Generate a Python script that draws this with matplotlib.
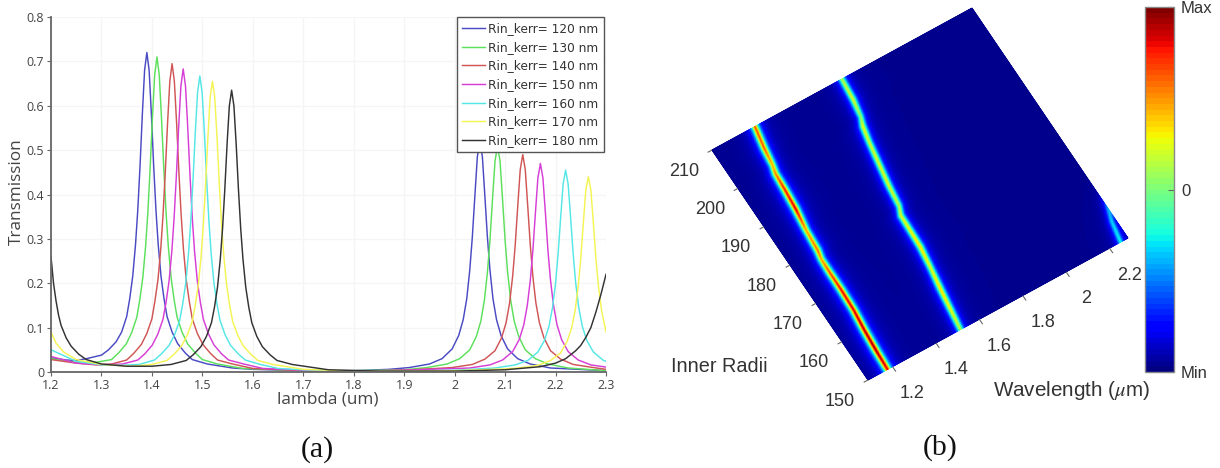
import numpy as np
import matplotlib
matplotlib.use("Agg")
import matplotlib.pyplot as plt
from matplotlib.transforms import Affine2D

W, H = 1220, 468

# ---------- panel (a): transmission curves ----------
lam_120 = [1.2,1.23,1.25,1.27,1.3,1.314,1.329,1.34,1.35,1.356,1.362,1.3675,1.372,1.3765,1.381,1.3855,1.39,
           1.3945,1.399,1.4035,1.408,1.4125,1.418,1.424,1.43,1.44,1.451,1.466,1.48,1.51,1.56,1.6,1.7,1.8,1.87,
           1.91,1.95,1.975,1.995,2.008,2.017,2.024,2.03,2.035,2.04,2.045,2.05,
           2.055,2.06,2.065,2.07,2.076,2.083,2.092,2.105,2.125,2.15,2.19,2.3]
T_120 = [.032,.027,.026,.03,.038,.05,.068,.09,.125,.165,.216,.287,.365,.465,.58,.68,.72,
         .68,.58,.465,.365,.287,.216,.165,.125,.09,.064,.043,.028,.018,.009,.006,.003,.003,.006,
         .01,.018,.03,.052,.082,.118,.165,.23,.303,.395,.485,.52,
         .485,.395,.303,.23,.165,.118,.082,.052,.03,.018,.009,.003]
lam_130 = [1.2,1.25,1.29,1.32,1.334,1.349,1.36,1.37,1.376,1.382,1.3875,1.392,1.3965,1.401,1.4055,1.41,
           1.4145,1.419,1.4235,1.428,1.4325,1.438,1.444,1.45,1.46,1.471,1.486,1.5,1.53,1.58,1.7,1.8,1.9,
           1.945,1.985,2.01,2.03,2.043,2.052,2.059,2.065,2.07,2.075,2.08,2.085,
           2.09,2.095,2.1,2.105,2.111,2.118,2.127,2.14,2.16,2.185,2.225,2.3]
T_130 = [.03,.022,.022,.028,.043,.063,.089,.123,.163,.213,.283,.36,.46,.572,.67,.71,
         .67,.572,.46,.36,.283,.213,.163,.123,.089,.063,.043,.028,.018,.008,.003,.003,.005,
         .01,.018,.03,.05,.08,.115,.162,.225,.297,.388,.475,.51,
         .475,.388,.297,.225,.162,.115,.08,.05,.03,.018,.009,.003]
lam_140 = [1.2,1.25,1.29,1.32,1.35,1.364,1.379,1.39,1.40,1.406,1.412,1.4175,1.422,1.4265,1.431,1.4355,1.44,
           1.4445,1.449,1.4535,1.458,1.4625,1.468,1.474,1.48,1.49,1.501,1.516,1.53,1.56,1.6,1.7,1.8,1.9,
           1.995,2.035,2.06,2.08,2.093,2.102,2.109,2.115,2.12,2.125,2.13,2.135,
           2.14,2.145,2.15,2.155,2.161,2.168,2.177,2.19,2.21,2.235,2.275,2.3]
T_140 = [.028,.02,.016,.018,.027,.042,.062,.087,.12,.16,.208,.277,.353,.45,.56,.655,.695,
         .655,.56,.45,.353,.277,.208,.16,.12,.087,.062,.042,.027,.018,.008,.003,.002,.004,
         .01,.017,.029,.048,.077,.111,.156,.216,.285,.372,.456,.49,
         .456,.372,.285,.216,.156,.111,.077,.048,.029,.017,.01,.006]
lam_150 = [1.2,1.25,1.3,1.342,1.372,1.386,1.401,1.412,1.422,1.428,1.434,1.4395,1.444,1.4485,1.453,1.4575,1.462,
           1.4665,1.471,1.4755,1.48,1.4845,1.49,1.496,1.502,1.512,1.523,1.538,1.552,1.582,1.62,1.7,1.8,1.9,
           2.03,2.07,2.095,2.115,2.128,2.137,2.144,2.15,2.155,2.16,2.165,2.17,
           2.175,2.18,2.185,2.19,2.196,2.203,2.212,2.225,2.245,2.27,2.3]
T_150 = [.035,.02,.016,.018,.027,.041,.061,.086,.119,.157,.205,.272,.347,.443,.552,.645,.683,
         .645,.552,.443,.347,.272,.205,.157,.119,.086,.061,.041,.027,.018,.008,.004,.002,.004,
         .009,.016,.027,.046,.073,.106,.15,.207,.273,.357,.437,.47,
         .437,.357,.273,.207,.15,.106,.073,.046,.027,.016,.011]
lam_160 = [1.2,1.25,1.3,1.34,1.375,1.405,1.419,1.434,1.445,1.455,1.461,1.467,1.4725,1.477,1.4815,1.486,1.4905,1.495,
           1.4995,1.504,1.5085,1.513,1.5175,1.523,1.529,1.535,1.545,1.556,1.571,1.585,1.615,1.65,1.7,1.8,1.9,2.0,
           2.08,2.12,2.145,2.165,2.178,2.187,2.194,2.2,2.205,2.21,2.215,2.22,
           2.225,2.23,2.235,2.24,2.246,2.253,2.262,2.275,2.295,2.3]
T_160 = [.05,.024,.016,.015,.017,.027,.041,.06,.084,.116,.153,.2,.266,.34,.433,.54,.63,.667,
         .63,.54,.433,.34,.266,.2,.153,.116,.084,.06,.041,.027,.017,.008,.005,.002,.002,.004,
         .009,.016,.026,.045,.071,.103,.145,.2,.265,.346,.423,.455,
         .423,.346,.265,.2,.145,.103,.071,.045,.026,.024]
lam_170 = [1.2,1.21,1.225,1.25,1.3,1.36,1.40,1.43,1.444,1.459,1.47,1.48,1.486,1.492,1.4975,1.502,1.5065,1.511,1.5155,1.52,
           1.5245,1.529,1.5335,1.538,1.5425,1.548,1.554,1.56,1.57,1.581,1.596,1.61,1.64,1.7,1.8,1.9,2.0,2.1,
           2.125,2.165,2.19,2.21,2.223,2.232,2.239,2.245,2.25,2.255,2.26,2.265,
           2.27,2.275,2.28,2.285,2.291,2.3]
T_170 = [.09,.065,.045,.028,.017,.013,.017,.026,.04,.059,.083,.114,.151,.197,.261,.333,.425,.53,.62,.655,
         .62,.53,.425,.333,.261,.197,.151,.114,.083,.059,.04,.026,.017,.006,.002,.002,.003,.007,
         .009,.015,.026,.043,.069,.1,.14,.194,.256,.335,.41,.44,
         .41,.335,.256,.194,.14,.09]
lam_180 = [1.2,1.205,1.21,1.215,1.22,1.23,1.24,1.255,1.27,1.3,1.35,1.4,
           1.438,1.468,1.482,1.497,1.508,1.518,1.524,1.53,1.5355,1.54,1.5445,1.549,1.5535,1.558,
           1.5625,1.567,1.5715,1.576,1.5805,1.586,1.592,1.598,1.608,1.619,1.634,1.648,1.678,
           1.75,1.85,2.0,2.1,2.17,2.2,2.22,2.24,2.25,2.26,2.27,2.28,2.29,2.3]
T_180 = [.26,.2,.16,.128,.105,.077,.058,.04,.028,.018,.013,.013,
         .017,.026,.039,.057,.08,.111,.146,.191,.254,.323,.412,.514,.6,.635,
         .6,.514,.412,.323,.254,.191,.146,.111,.08,.057,.039,.026,.017,
         .005,.002,.002,.005,.012,.02,.03,.048,.06,.078,.1,.135,.175,.22]

labels_a = ["Rin_kerr= 120 nm", "Rin_kerr= 130 nm", "Rin_kerr= 140 nm", "Rin_kerr= 150 nm",
            "Rin_kerr= 160 nm", "Rin_kerr= 170 nm", "Rin_kerr= 180 nm"]
colors_a = ["#4a4ac4", "#5ce05c", "#d05555", "#d63ed6", "#55e6e6", "#f4f455", "#333333"]
xticks_a = [1.2,1.3,1.4,1.5,1.6,1.7,1.8,1.9,2.0,2.1,2.2,2.3]
xticklabels_a = ["1.2","1.3","1.4","1.5","1.6","1.7","1.8","1.9","2","2.1","2.2","2.3"]
yticks_a = [0,.1,.2,.3,.4,.5,.6,.7,.8]
yticklabels_a = ["0","0.1","0.2","0.3","0.4","0.5","0.6","0.7","0.8"]

# ---------- panel (b): resonance ridges ----------
radii = [150,155,160,165,170,175,178,180,185,190,195,199,201,205,210]
ridge1_centre = [1.178,1.183,1.19,1.20,1.204,1.205,1.207,1.215,1.222,1.235,1.243,1.248,1.258,1.268,1.286]
ridge1_peak = [.90,.95,.93,.90,.88,.80,.72,.78,.72,.90,.86,.76,.70,.80,.80]
ridge2_centre = [1.514,1.527,1.54,1.555,1.568,1.572,1.574,1.59,1.602,1.618,1.634,1.65,1.665,1.678,1.687]
ridge2_peak = [.55,.62,.66,.60,.66,.62,.60,.55,.60,.60,.58,.62,.50,.60,.55]
ridge3_centre = [2.252,2.27,2.30,2.34,2.38,2.42,2.44,2.46,2.50,2.54,2.58,2.61,2.63,2.66,2.70]
ridge3_peak = [.36,.32,.25,.10,.05,.05,.05,.05,.05,.05,.05,.05,.05,.05,.05]
ridge_width = .0125
background = .012
lam_min, lam_max = 1.087, 2.285
lam_ticks = [1.2,1.4,1.6,1.8,2.0,2.2]
lam_ticklabels = ["1.2","1.4","1.6","1.8","2","2.2"]
rad_ticks = [150,160,170,180,190,200,210]

# ---------- drawing ----------
plt.rcParams["font.family"] = ["Open Sans", "DejaVu Sans"]
plt.rcParams["mathtext.fontset"] = "stix"
fig = plt.figure(figsize=(W/100, H/100), dpi=100, facecolor="white")

def box(l, t, r, b):
    return [l/W, 1-b/H, (r-l)/W, (b-t)/H]

# panel (a)
ax = fig.add_axes(box(51, 17, 606, 372))
series = [(lam_120,T_120),(lam_130,T_130),(lam_140,T_140),(lam_150,T_150),
          (lam_160,T_160),(lam_170,T_170),(lam_180,T_180)]
for (x, y), c, lab in zip(series, colors_a, labels_a):
    ax.plot(x, y, color=c, lw=1.05, label=lab)
ax.set_xlim(1.2, 2.3); ax.set_ylim(0, .8)
ax.set_xticks(xticks_a, xticklabels_a); ax.set_yticks(yticks_a, yticklabels_a)
ax.grid(True, color="#f5f5f5", lw=1); ax.set_axisbelow(True)
for s in ("top","right"):
    ax.spines[s].set_visible(False)
for s in ("left","bottom"):
    ax.spines[s].set_color("#666666"); ax.spines[s].set_linewidth(1.3)
ax.tick_params(colors="#444444", labelsize=9, length=3, width=.8, pad=2, color="#666666")
ax.set_ylabel("Transmission", fontsize=12.3, color="#444444")
ax.yaxis.set_label_coords((25-51)/555, (372-192)/355)
ax.set_xlabel("lambda (um)", fontsize=12.3, color="#444444")
ax.xaxis.set_label_coords((328-51)/555, (372-391)/355)
leg = ax.legend(loc="upper left", bbox_to_anchor=((457-51)/555, 1.0), fancybox=False,
                framealpha=1, edgecolor="#555555", borderaxespad=0, labelspacing=.47,
                handlelength=1.9, handletextpad=.28, borderpad=.42, labelcolor="#333333",
                prop={"family": "DejaVu Sans", "size": 8.7})
leg.get_frame().set_linewidth(1)
leg.set_zorder(10)

# panel (b): overlay in pixel coordinates, heat map placed by an affine map
ov = fig.add_axes([0, 0, 1, 1]); ov.set_xlim(0, W); ov.set_ylim(H, 0); ov.axis("off"); ov.patch.set_alpha(0)
# (wavelength, radius) -> pixels
tr = Affine2D(np.array([[217.0, -2.6, 868 - 217.0*lam_min + 2.6*150],
                        [-118.5, -3.833, 380 + 118.5*lam_min + 3.833*150],
                        [0, 0, 1]]))
lam_grid = np.linspace(lam_min, lam_max, 600)
rad_grid = np.linspace(radii[0], radii[-1], 300)
Z = np.full((rad_grid.size, lam_grid.size), background)
for cen, pk in ((ridge1_centre, ridge1_peak), (ridge2_centre, ridge2_peak), (ridge3_centre, ridge3_peak)):
    c_r = np.interp(rad_grid, radii, cen)[:, None]
    p_r = np.interp(rad_grid, radii, pk)[:, None]
    Z += p_r / (1 + ((lam_grid[None, :] - c_r) / ridge_width)**2)
Z = 2*np.clip(Z, 0, 1) - 1
cmap = plt.get_cmap("jet", 64)
mesh = ov.pcolormesh(lam_grid, rad_grid, Z, shading="gouraud", cmap=plt.get_cmap("jet"), vmin=-1, vmax=1,
                     transform=tr + ov.transData, rasterized=True)

tick_kw = dict(color="#666666", lw=.8, solid_capstyle="butt")
text_c = "#333333"
for v, s in zip(lam_ticks, lam_ticklabels):
    ov.plot([v, v], [150, 148.7], transform=tr + ov.transData, **tick_kw)
    ov.annotate(s, xy=(v, 150), xycoords=tr + ov.transData, xytext=(20, -27), textcoords="offset pixels",
                ha="center", va="center", fontsize=13, color=text_c, family="Liberation Sans")
for v in rad_ticks:
    ov.plot([lam_min, lam_min - .02], [v, v], transform=tr + ov.transData, **tick_kw)
    ov.annotate(str(v), xy=(lam_min, v), xycoords=tr + ov.transData, xytext=(-28, -21), textcoords="offset pixels",
                ha="center", va="center", fontsize=13, color=text_c, family="Liberation Sans")
ov.text(719, 367, "Inner Radii", ha="center", va="center", fontsize=14.3, color=text_c, family="Liberation Sans")
ov.text(1072, 390, r"Wavelength ($\mu$m)", ha="center", va="center", fontsize=14.9, color=text_c, family="Liberation Sans")

ov.text(317, 450, "(a)", ha="center", va="center", fontsize=21.5, color="#111111", family="Liberation Serif")
ov.text(940, 448, "(b)", ha="center", va="center", fontsize=21.5, color="#111111", family="Liberation Serif")

# colour bar
cax = fig.add_axes(box(1145, 7, 1174, 372))
sm = plt.cm.ScalarMappable(norm=plt.Normalize(-1, 1), cmap=cmap)
cb = fig.colorbar(sm, cax=cax, ticks=[-1, 0, 1])
cb.ax.set_yticklabels(["Min", "0", "Max"], fontsize=12, color=text_c, family="Liberation Sans")
cb.ax.tick_params(direction="in", length=4, width=.8, color="#666666", pad=5)
cb.outline.set_edgecolor("#888888"); cb.outline.set_linewidth(1)

fig.savefig("out.png", dpi=100)
